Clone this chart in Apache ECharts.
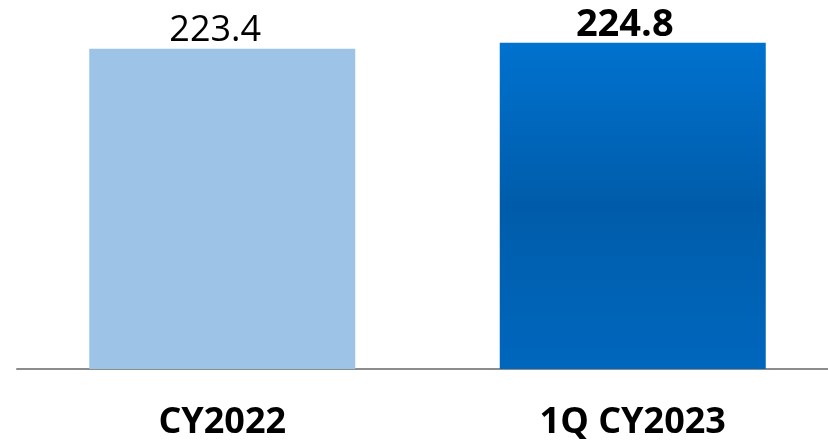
<!DOCTYPE html>
<html>
<head>
<meta charset="utf-8">
<script src="https://cdn.jsdelivr.net/npm/echarts@6/dist/echarts.min.js"></script>
<style>
  html, body { margin: 0; padding: 0; background: #fff; }
  #main { width: 828px; height: 448px; }
</style>
</head>
<body>
<div id="main"></div>
<script>
// 数据
var categories = ['CY2022', '1Q CY2023'];
var values = [223.4, 224.8];

var chart = echarts.init(document.getElementById('main'));

var option = {
    animation: false,
    grid: { left: 17, right: -10, top: 20, bottom: 79, outerBoundsMode: 'none' },
    xAxis: {
        type: 'category',
        data: categories,
        axisTick: { show: false },
        axisLine: { lineStyle: { color: '#8c8c8c', width: 2 } },
        axisLabel: {
            margin: 36,
            color: '#000',
            fontFamily: 'Open Sans',
            fontWeight: 'bold',
            fontSize: 36
        }
    },
    yAxis: {
        type: 'value',
        min: 150,
        max: 230,
        show: false,
        splitLine: { show: false }
    },
    series: [{
        type: 'bar',
        barWidth: 266,
        data: [
            {
                value: values[0],
                itemStyle: { color: '#9dc3e6' },
                label: { fontWeight: 'normal', fontSize: 36, distance: 0, offset: [-7, 0] }
            },
            {
                value: values[1],
                itemStyle: {
                    color: new echarts.graphic.LinearGradient(0, 0, 0, 1, [
                        { offset: 0, color: '#0072cf' },
                        { offset: 0.5, color: '#005caa' },
                        { offset: 1, color: '#0067bd' }
                    ])
                },
                label: { fontWeight: 'bold', fontSize: 38, distance: -1, offset: [-8, 0] }
            }
        ],
        label: {
            show: true,
            position: 'top',
            color: '#000',
            fontFamily: 'Open Sans'
        }
    }]
};

chart.setOption(option);
</script>
</body>
</html>
